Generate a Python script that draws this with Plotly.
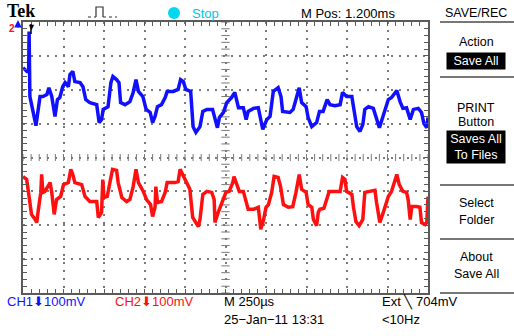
import numpy as np
import plotly.graph_objects as go

# ---- data (screen divisions: x 0..10, y -4..4, 250us/div, 100mV/div) ----
ch1_t = [0.00, 0.10, 0.14, 0.15, 0.17, 0.24, 0.30, 0.32, 0.37, 0.42, 0.49, 0.59, 0.64, 0.71, 0.79, 0.85,
         0.91, 0.98, 1.04, 1.12, 1.16, 1.23, 1.28, 1.41, 1.48, 1.55, 1.65, 1.82, 1.88, 1.94, 1.98, 2.10,
         2.17, 2.22, 2.31, 2.37, 2.41, 2.52, 2.64, 2.72, 2.79, 2.85, 2.96, 3.04, 3.14, 3.20, 3.26, 3.32,
         3.42, 3.51, 3.56, 3.71, 3.83, 3.89, 3.96, 4.02, 4.14, 4.20, 4.27, 4.37, 4.44, 4.54, 4.68, 4.74,
         4.80, 4.85, 4.95, 5.03, 5.15, 5.23, 5.32, 5.44, 5.51, 5.56, 5.69, 5.81, 5.85, 5.92, 6.02, 6.10,
         6.18, 6.30, 6.37, 6.41, 6.59, 6.67, 6.76, 6.82, 6.88, 6.99, 7.04, 7.13, 7.25, 7.32, 7.41, 7.51,
         7.58, 7.70, 7.83, 7.89, 7.99, 8.12, 8.16, 8.24, 8.32, 8.39, 8.44, 8.53, 8.65, 8.72, 8.80, 8.88,
         8.94, 9.02, 9.10, 9.23, 9.31, 9.38, 9.47, 9.56, 9.64, 9.76, 9.84, 9.90, 9.97, 10.00]
ch1_v = [2.65, 2.54, 2.54, 3.72, 1.80, 1.33, 1.06, 0.94, 1.42, 1.80, 1.80, 1.86, 2.06, 1.80, 1.21, 1.71,
         1.77, 2.09, 2.21, 2.09, 2.45, 2.54, 2.24, 2.21, 2.09, 1.71, 1.62, 1.56, 1.03, 1.12, 1.42, 1.50,
         2.21, 2.39, 2.30, 2.21, 1.62, 1.56, 1.65, 1.92, 2.30, 1.95, 1.80, 1.42, 1.33, 1.03, 1.21, 1.50,
         1.56, 1.77, 1.95, 1.95, 2.01, 2.30, 2.24, 2.01, 1.95, 0.91, 0.74, 0.91, 1.36, 1.42, 1.42, 1.12,
         0.88, 1.18, 1.33, 1.62, 1.77, 1.92, 1.47, 1.47, 1.12, 1.36, 1.45, 1.47, 1.21, 0.83, 1.12, 1.21,
         1.95, 2.06, 1.80, 1.36, 1.33, 1.42, 1.80, 2.06, 1.62, 1.50, 1.18, 0.91, 1.03, 1.36, 1.36, 1.71,
         1.56, 1.53, 1.56, 1.92, 1.80, 1.80, 1.50, 0.91, 0.77, 0.97, 1.42, 1.50, 1.45, 1.21, 0.88, 1.18,
         1.42, 1.71, 1.77, 1.98, 1.65, 1.45, 1.47, 1.12, 1.42, 1.45, 1.33, 1.00, 0.88, 1.18]

ch2_t = [0.00, 0.09, 0.16, 0.21, 0.30, 0.34, 0.38, 0.44, 0.46, 0.49, 0.54, 0.60, 0.67, 0.71, 0.77, 0.83,
         0.93, 1.00, 1.12, 1.18, 1.23, 1.28, 1.45, 1.53, 1.65, 1.82, 1.86, 1.94, 1.97, 2.00, 2.08, 2.15,
         2.21, 2.31, 2.35, 2.44, 2.56, 2.64, 2.72, 2.79, 2.85, 2.97, 3.05, 3.15, 3.20, 3.26, 3.28, 3.32,
         3.42, 3.51, 3.56, 3.75, 3.83, 3.88, 3.96, 4.04, 4.12, 4.19, 4.27, 4.33, 4.37, 4.44, 4.54, 4.66,
         4.72, 4.74, 4.82, 4.91, 4.96, 5.01, 5.09, 5.18, 5.21, 5.28, 5.34, 5.44, 5.51, 5.56, 5.69, 5.81,
         5.85, 5.87, 5.93, 6.00, 6.06, 6.14, 6.20, 6.30, 6.36, 6.43, 6.55, 6.66, 6.74, 6.82, 6.88, 6.99,
         7.04, 7.13, 7.17, 7.25, 7.29, 7.33, 7.43, 7.50, 7.56, 7.70, 7.83, 7.89, 7.95, 7.99, 8.12, 8.16,
         8.22, 8.30, 8.39, 8.44, 8.53, 8.69, 8.73, 8.81, 8.88, 8.94, 9.02, 9.10, 9.19, 9.23, 9.29, 9.38,
         9.47, 9.51, 9.56, 9.60, 9.72, 9.80, 9.84, 9.93, 9.97, 10.00]
ch2_v = [-0.56, -0.65, -1.24, -1.68, -1.83, -1.92, -1.53, -1.03, -0.50, -1.03, -1.00, -0.86, -0.74, -1.03, -1.68, -1.24,
         -1.15, -0.80, -0.74, -0.35, -0.50, -0.74, -0.80, -1.15, -1.30, -1.30, -1.77, -1.62, -0.65, -1.18, -1.15, -0.71,
         -0.35, -0.38, -0.74, -1.18, -1.30, -1.24, -0.86, -0.35, -0.74, -1.00, -1.24, -1.39, -1.74, -1.47, -0.86, -1.33,
         -1.30, -1.03, -0.74, -0.74, -0.71, -0.35, -0.56, -0.74, -0.94, -1.77, -1.92, -2.04, -1.83, -1.09, -1.00, -1.03,
         -1.24, -1.92, -1.62, -1.33, -1.15, -1.03, -1.00, -0.74, -0.56, -0.80, -1.00, -1.00, -1.33, -1.53, -1.53, -1.47,
         -1.89, -2.12, -1.89, -1.47, -1.39, -1.03, -0.56, -0.59, -0.86, -1.39, -1.47, -1.45, -1.03, -0.50, -0.94, -1.03,
         -1.39, -1.47, -1.83, -2.01, -1.62, -1.53, -1.50, -1.24, -1.00, -1.00, -1.00, -0.59, -0.65, -1.00, -1.09, -1.47,
         -1.89, -2.01, -1.83, -1.03, -1.00, -0.97, -1.33, -1.92, -1.68, -1.45, -1.15, -1.00, -0.59, -0.50, -0.80, -1.00,
         -1.03, -1.24, -1.83, -1.45, -1.45, -1.47, -1.92, -1.98, -1.92, -1.15]

# ---- layout geometry (pixels) ----
W, H = 514, 336
L, R, T, B = 23, 428, 22, 293
PW, PH = R - L, B - T


def px(x):
    return (x - L) / PW


def py(y):
    return (B - y) / PH


FONT = "Liberation Sans"
GRID = "#7a7a7a"

fig = go.Figure()

# center graticule tick marks
ctick_y = np.round(np.arange(-4, 4.001, 0.2), 3)
ctick_x = np.round(np.arange(0, 10.001, 0.2), 3)
fig.add_trace(go.Scatter(x=[5] * len(ctick_y), y=ctick_y, mode="markers", hoverinfo="skip",
                         marker=dict(symbol="line-ew", size=6, line=dict(width=1, color=GRID)),
                         showlegend=False))
fig.add_trace(go.Scatter(x=ctick_x, y=[0] * len(ctick_x), mode="markers", hoverinfo="skip",
                         marker=dict(symbol="line-ns", size=5, line=dict(width=1, color=GRID)),
                         showlegend=False))

fig.add_trace(go.Scatter(x=ch1_t, y=ch1_v, mode="lines", line=dict(color="#1010ff", width=3.5),
                         showlegend=False, name="CH1"))
fig.add_trace(go.Scatter(x=ch2_t, y=ch2_v, mode="lines", line=dict(color="#ff1010", width=3.5),
                         showlegend=False, name="CH2"))

axis_common = dict(showticklabels=False, showgrid=True, gridcolor=GRID, gridwidth=1.5,
                   griddash="2px,6px", zeroline=False, showline=True, linecolor="#5a5a5a",
                   linewidth=2, mirror="ticks", ticks="inside", ticklen=4, tickcolor="#5a5a5a",
                   tickwidth=1)
fig.update_xaxes(range=[0, 10], dtick=1, tick0=0,
                 minor=dict(dtick=0.2, ticks="inside", ticklen=4, tickcolor="#5a5a5a", showgrid=False),
                 **axis_common)
fig.update_yaxes(range=[-4, 4], dtick=1, tick0=0,
                 minor=dict(dtick=0.2, ticks="inside", ticklen=4, tickcolor="#5a5a5a", showgrid=False),
                 **axis_common)

shapes = []
# right panel separators
for yy in [22, 77, 185, 239, 293]:
    shapes.append(dict(type="line", xref="paper", yref="paper", x0=px(440), x1=px(514),
                       y0=py(yy), y1=py(yy), line=dict(color="#777777", width=2)))
# stop indicator dot
shapes.append(dict(type="circle", xref="paper", yref="paper", x0=px(168), x1=px(180),
                   y0=py(19), y1=py(7), fillcolor="#00d8f0", line=dict(width=0)))
# pulse trigger icon
shapes.append(dict(type="path", xref="paper", yref="paper",
                   path=f"M {px(96)},{py(17)} L {px(96)},{py(7)} L {px(103)},{py(7)} L {px(103)},{py(17)}",
                   line=dict(color="#333", width=1.2)))
for x0, x1 in [(88, 96), (103, 117)]:
    shapes.append(dict(type="line", xref="paper", yref="paper", x0=px(x0), x1=px(x1),
                       y0=py(17), y1=py(17), line=dict(color="#333", width=1.2, dash="dot")))
# trigger position marker stem
shapes.append(dict(type="line", xref="paper", yref="paper", x0=px(31), x1=px(31),
                   y0=py(24), y1=py(34), line=dict(color="black", width=1.5)))

ann = []


def text(x, y, s, color="black", size=13, xanchor="left", family=FONT, **kw):
    ann.append(dict(x=px(x), y=py(y), xref="paper", yref="paper", text=s, showarrow=False,
                    xanchor=xanchor, yanchor="middle", font=dict(family=family, size=size, color=color), **kw))


text(5, 11, "<b>Tek</b>", size=18, family="Liberation Serif")
text(190, 13, "Stop", color="#00c8e8", size=13)
text(299, 13, "M Pos: 1.200ms", size=13)
text(476, 13, "SAVE/REC", size=12.5, xanchor="center")
text(476, 42, "Action", size=12.5, xanchor="center")
text(476, 61, "Save All", size=12.5, xanchor="center", color="white", bgcolor="black",
     width=58, height=16, borderpad=0)
text(476, 108, "PRINT", size=12.5, xanchor="center")
text(476, 122, "Button", size=12.5, xanchor="center")
text(476, 147, "Saves All<br>To Files", size=12.5, xanchor="center", color="white", bgcolor="black",
     width=58, height=32, borderpad=0)
text(476, 203, "Select", size=12.5, xanchor="center")
text(476, 220, "Folder", size=12.5, xanchor="center")
text(476, 257, "About", size=12.5, xanchor="center")
text(476, 274, "Save All", size=12.5, xanchor="center")

text(5, 301, "CH1\u2b07100mV", color="#1010ff", size=13)
text(113, 301, "CH2\u2b07100mV", color="#ff1010", size=13)
text(222, 301, "M 250\u00b5s", size=13)
text(222, 319, "25\u2212Jan\u221211 13:31", size=13)
text(380, 301, "Ext \u2572 704mV", size=13)
text(380, 319, "<10Hz", size=13)

# channel / trigger markers
text(7, 28, "<b>2</b>", color="#ff1010", size=10)
ann.append(dict(x=px(18), y=py(20), xref="paper", yref="paper", text="", showarrow=True,
                ax=0, ay=9, arrowhead=2, arrowsize=1, arrowwidth=1.5, arrowcolor="#1010ff"))
text(31, 27, "\u25bc", color="black", size=9, xanchor="center")

fig.update_layout(width=W, height=H, margin=dict(l=L, r=W - R, t=T, b=H - B),
                  paper_bgcolor="white", plot_bgcolor="white", shapes=shapes, annotations=ann,
                  showlegend=False)

fig.write_html("out.html")
